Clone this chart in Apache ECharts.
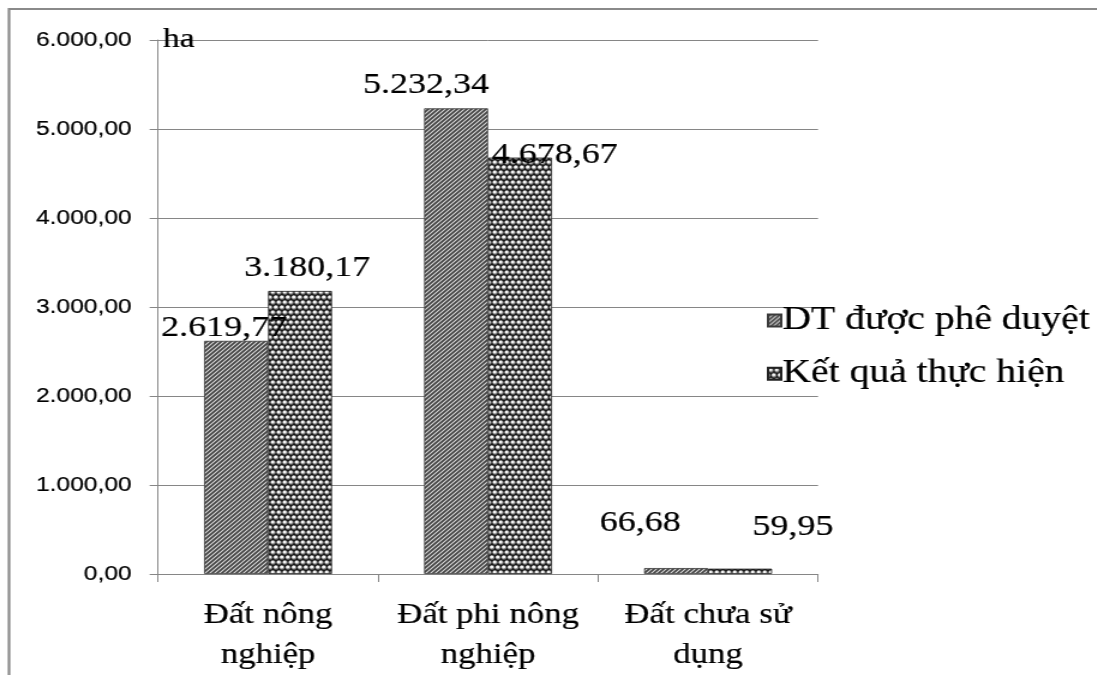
<!DOCTYPE html>
<html>
<head>
<meta charset="utf-8">
<script src="https://cdn.jsdelivr.net/npm/echarts@6/dist/echarts.min.js"></script>
<style>
  html, body { margin: 0; padding: 0; background: #fff; overflow: hidden; }
  /* the chart is laid out narrower and widened, giving the wide serif lettering */
  #wrap { width: 914px; height: 675px; transform: scaleX(1.2); transform-origin: 0 0; }
</style>
</head>
<body>
<div id="wrap"></div>
<script>
// ---- data ----
const categories = ['Đất nông\nnghiệp', 'Đất phi nông\nnghiệp', 'Đất chưa sử\ndụng'];
const seriesNames = ['DT được phê duyệt', 'Kết quả thực hiện'];
const approved = [2619.77, 5232.34, 66.68];
const achieved = [3180.17, 4678.67, 59.95];
const yTicks = [0, 1000, 2000, 3000, 4000, 5000, 6000];

// label nudges (x, y) relative to the top centre of each bar
const approvedLabelShift = [[-10, 2], [-25, -8], [-30, -30]];
const achievedLabelShift = [[6, -8], [29, 13], [44, -27]];

// number format: 1.234,56
function fmt(v) {
  const parts = Number(v).toFixed(2).split('.');
  parts[0] = parts[0].replace(/\B(?=(\d{3})+(?!\d))/g, '.');
  return parts.join(',');
}

// diagonal hatch fill
function hatchPattern() {
  const c = document.createElement('canvas');
  c.width = 4; c.height = 4;
  const g = c.getContext('2d');
  g.fillStyle = '#444';
  g.fillRect(0, 0, 4, 4);
  g.strokeStyle = '#dcdcdc';
  g.lineWidth = 1.1;
  g.beginPath();
  g.moveTo(-1, 5); g.lineTo(5, -1);
  g.moveTo(-1, 1); g.lineTo(1, -1);
  g.moveTo(3, 5); g.lineTo(5, 3);
  g.stroke();
  return c;
}

// dark fill with staggered light dots
function dotPattern() {
  const c = document.createElement('canvas');
  c.width = 10; c.height = 10;
  const g = c.getContext('2d');
  g.fillStyle = '#141414';
  g.fillRect(0, 0, 10, 10);
  const pts = [[2.5, 2.5], [7.5, 2.5], [0, 7.5], [5, 7.5], [10, 7.5]];
  pts.forEach(([x, y]) => {
    g.fillStyle = '#7a7a7a';
    g.beginPath(); g.arc(x, y, 2.2, 0, Math.PI * 2); g.fill();
    g.fillStyle = '#f6f6f6';
    g.beginPath(); g.arc(x - 0.3, y - 0.4, 1.5, 0, Math.PI * 2); g.fill();
  });
  return c;
}

const hatchFill = { image: hatchPattern(), repeat: 'repeat' };
const dotFill = { image: dotPattern(), repeat: 'repeat' };

const serif = 'Liberation Serif';
const sans = 'Liberation Sans';
const LABEL_LH = 30;
// a faint outline in the text colour gives the lettering a slightly heavier stroke
const ink = { color: '#000', textBorderColor: '#000', textBorderWidth: 0.2 };

function barData(values, shifts) {
  return values.map((v, i) => ({
    value: v,
    label: { offset: shifts[i] }
  }));
}

const chart = echarts.init(document.getElementById('wrap'), null, { renderer: 'canvas' });

chart.setOption({
  animation: false,
  backgroundColor: '#fff',
  grid: { left: 131.7, top: 40, width: 550, height: 534, containLabel: false },
  legend: {
    orient: 'vertical',
    left: 639,
    top: 304,
    padding: 0,
    itemWidth: 11,
    itemHeight: 12,
    itemGap: 20,
    icon: 'rect',
    textStyle: Object.assign({ fontFamily: serif, fontSize: 33, lineHeight: 33, padding: [0, 0, 0, -4] }, ink),
    data: seriesNames
  },
  xAxis: {
    type: 'category',
    data: categories,
    axisLine: { lineStyle: { color: '#868686', width: 1 } },
    axisTick: { show: true, length: 8, lineStyle: { color: '#868686' } },
    axisLabel: Object.assign({
      interval: 0,
      fontFamily: serif, fontSize: 29, lineHeight: 40, margin: 21
    }, ink)
  },
  yAxis: {
    type: 'value',
    min: yTicks[0],
    max: yTicks[yTicks.length - 1],
    interval: yTicks[1] - yTicks[0],
    name: 'ha',
    nameLocation: 'end',
    nameGap: 0,
    nameTextStyle: Object.assign({
      fontFamily: serif, fontSize: 28,
      align: 'left', verticalAlign: 'middle', padding: [0, 0, 10, 4]
    }, ink),
    axisLine: { show: true, lineStyle: { color: '#868686', width: 1 } },
    axisTick: { show: true, length: 7, lineStyle: { color: '#868686' } },
    splitLine: { lineStyle: { color: '#868686', width: 1 } },
    axisLabel: {
      fontFamily: sans, fontSize: 20.5, color: '#000', margin: 22,
      textBorderColor: '#000', textBorderWidth: 0.2,
      formatter: fmt
    }
  },
  series: [
    {
      name: seriesNames[0],
      type: 'bar',
      barWidth: 53.3,
      barGap: '0%',
      itemStyle: { color: hatchFill, borderColor: '#3a3a3a', borderWidth: 0.8 },
      label: Object.assign({
        show: true, position: 'top', distance: 0,
        fontFamily: serif, fontSize: 30, lineHeight: LABEL_LH,
        formatter: p => fmt(p.value)
      }, ink),
      data: barData(approved, approvedLabelShift)
    },
    {
      name: seriesNames[1],
      type: 'bar',
      barWidth: 53.3,
      barGap: '0%',
      itemStyle: { color: dotFill, borderColor: '#222', borderWidth: 0.8 },
      label: Object.assign({
        show: true, position: 'top', distance: 0,
        fontFamily: serif, fontSize: 30, lineHeight: LABEL_LH,
        formatter: p => fmt(p.value)
      }, ink),
      data: barData(achieved, achievedLabelShift)
    }
  ],
  graphic: [
    {
      type: 'rect',
      silent: true,
      shape: { x: 7.5, y: 9, width: 1000, height: 800 },
      style: { fill: 'none', stroke: '#8a8a8a', lineWidth: 2.2 }
    }
  ]
});
</script>
</body>
</html>
